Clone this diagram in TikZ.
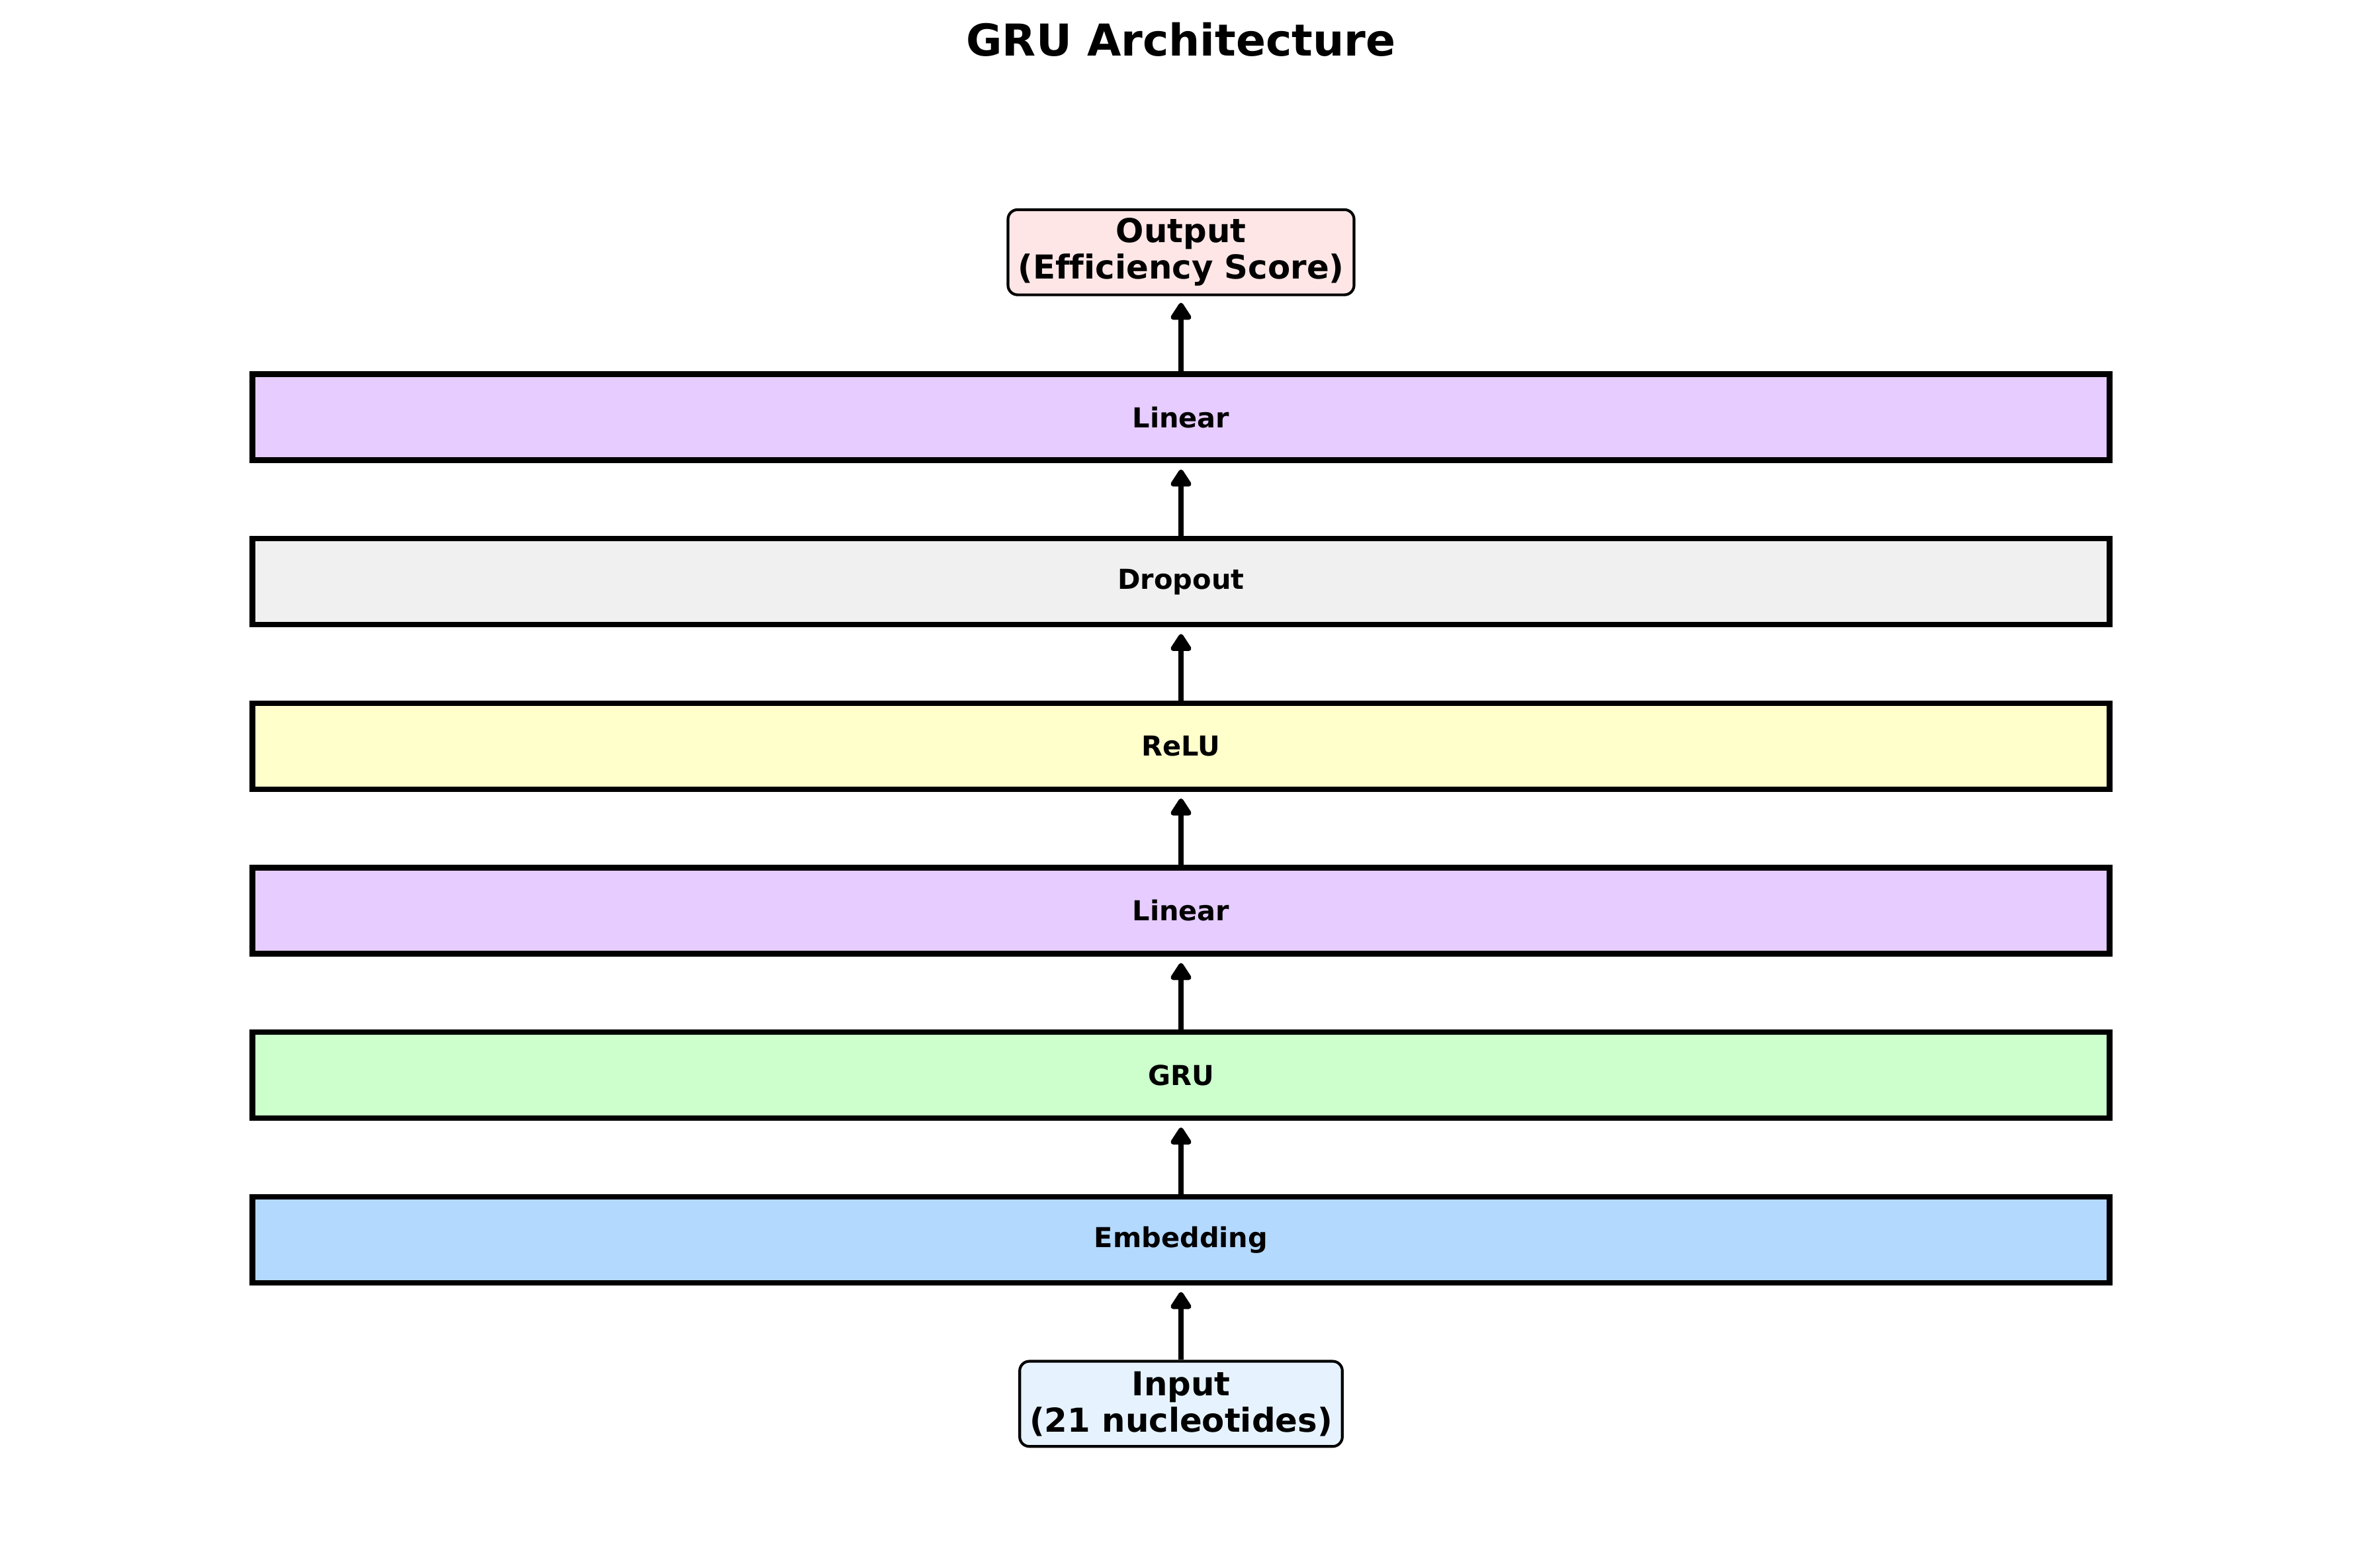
\documentclass[tikz,border=0pt]{standalone}
\usepackage{fontspec}
\setmainfont{DejaVu Sans}[Ligatures=CommonOff]
\usetikzlibrary{arrows.meta}
\definecolor{embblue}{HTML}{B3D9FF}
\definecolor{grugreen}{HTML}{CCFFCC}
\definecolor{linpurple}{HTML}{E6CCFF}
\definecolor{reluyellow}{HTML}{FFFFCC}
\definecolor{dropgray}{HTML}{F0F0F0}
\definecolor{inblue}{HTML}{E6F3FF}
\definecolor{outpink}{HTML}{FFE6E6}
\tikzset{
	layer/.style={draw,line width=2pt,minimum width=9.357in,minimum height=0.433in,inner sep=0pt,font=\bfseries\fontsize{10}{12}\selectfont},
	iobox/.style={draw,line width=1pt,rounded corners=3.5pt,align=center,inner xsep=3.6pt,inner ysep=3pt,minimum height=31pt,font=\bfseries\fontsize{12}{13.3}\selectfont},
	flow/.style={-{Triangle[length=7pt,width=8.5pt,round]},line width=2pt,shorten >=2.4pt}
}
\begin{document}
\begin{tikzpicture}[x=1in,y=1in]
		\useasboundingbox (0,0) rectangle (11.9,7.9);
		\node[font=\bfseries\fontsize{16}{19}\selectfont] (title) at (5.95,7.70) {GRU Architecture};
		% layers, bottom to top
		\foreach \name/\txt/\col [count=\i] in {emb/Embedding/embblue,gru/GRU/grugreen,lin1/Linear/linpurple,relu/ReLU/reluyellow,drop/Dropout/dropgray,lin2/Linear/linpurple}
			\node[layer,fill=\col] (\name) at (5.95,{1.654+0.8288*(\i-1)}) {\txt};
		\node[iobox,fill=inblue] (inp) at (5.95,0.827) {Input\\(21 nucleotides)};
		\node[iobox,fill=outpink] (outp) at (5.95,6.629) {Output\\(Efficiency Score)};
		\foreach \a/\b in {inp/emb,emb/gru,gru/lin1,lin1/relu,relu/drop,drop/lin2,lin2/outp}
			\draw[flow] (\a) -- (\b);
\end{tikzpicture}
\end{document}
